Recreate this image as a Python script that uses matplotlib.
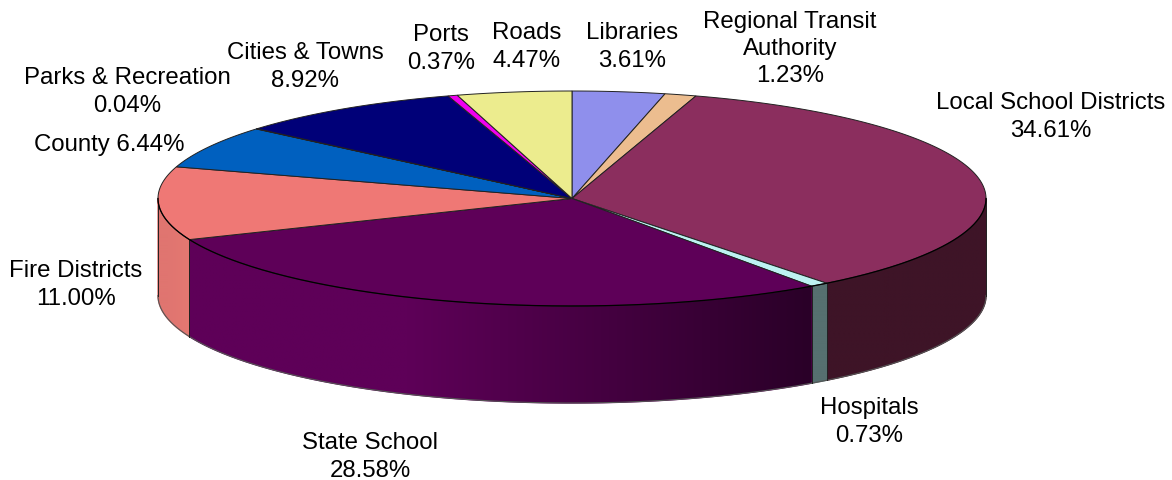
import numpy as np
import matplotlib
matplotlib.use("Agg")
import matplotlib.pyplot as plt
from matplotlib.colors import to_rgb
from matplotlib.patches import Polygon

values = [3.61, 1.23, 34.61, 0.73, 28.58, 11.00, 6.44, 0.04, 8.92, 0.37, 4.47]
top_colors = ["#8F8FEC", "#ECBD8F", "#8B2E5E", "#BDF2F2", "#5E0058", "#EF7875",
              "#0060BF", "#8000A0", "#000078", "#F000F0", "#ECEC8E"]
side_left = ["#8F8FEC", "#ECBD8F", "#3E1427", "#567070", "#5E0058", "#E07570",
             "#0060BF", "#8000A0", "#000078", "#F000F0", "#ECEC8E"]
side_right = ["#8F8FEC", "#ECBD8F", "#3E1427", "#567070", "#2A0028", "#E57872",
              "#0060BF", "#8000A0", "#000078", "#F000F0", "#ECEC8E"]
label_text = ["Libraries\n3.61%", "Regional Transit\nAuthority\n1.23%", "Local School Districts\n34.61%",
              "Hospitals\n0.73%", "State School\n28.58%", "Fire Districts\n11.00%", "County 6.44%",
              "Parks & Recreation\n0.04%", "Cities & Towns\n8.92%", "Ports\n0.37%", "Roads\n4.47%"]
label_pos = [(632, 47), (790, 49), (1051, 117), (869, 422), (370, 457), (76, 285), (109, 145),
             (127, 92), (305, 67), (441, 49), (527, 47)]

CX, CY, RX, RY, DEPTH = 572, 199.5, 414, 107.5, 97
W, H = 1172, 481

plt.rcParams["font.family"] = ["Liberation Sans", "DejaVu Sans"]
fig = plt.figure(figsize=(W / 100, H / 100), dpi=100)
ax = fig.add_axes([0, 0, 1, 1])


def rim(theta):
    return CX + RX * np.sin(theta), CY - RY * np.cos(theta)


edges = np.cumsum([0] + values) / sum(values) * 2 * np.pi
EDGE = "#222222"

# side walls: front half only, horizontal gradient clipped to the wall outline
for i, v in enumerate(values):
    a0, a1 = max(edges[i], np.pi / 2), min(edges[i + 1], 3 * np.pi / 2)
    if a1 <= a0:
        continue
    ts = np.linspace(a0, a1, 200)
    xs, ys = rim(ts)
    outline = np.r_[np.c_[xs, ys], np.c_[xs[::-1], ys[::-1] + DEPTH]]
    x_lo, x_hi = xs.min(), xs.max()
    # backing fill closes the hairline gaps between neighbouring walls
    ax.add_patch(Polygon(outline, closed=True, fc=side_left[i], ec=side_left[i], lw=1.0, zorder=1.5))
    g = np.clip((np.linspace(0, 1, 256) - 0.35) / 0.65, 0, 1)
    grad = np.outer(1 - g, to_rgb(side_left[i])) + np.outer(g, to_rgb(side_right[i]))
    im = ax.imshow(grad[None, :, :], extent=(x_lo, x_hi, ys.max() + DEPTH, ys.min()),
                   aspect="auto", zorder=2, interpolation="bilinear")
    clip = Polygon(outline, closed=True, transform=ax.transData, fc="none", ec="none")
    ax.add_patch(clip)
    im.set_clip_path(clip)
    ax.plot(xs, ys + DEPTH, color="#555555", lw=0.8, zorder=3)
    for a in (a0, a1):
        x, y = rim(a)
        ax.plot([x, x], [y, y + DEPTH], color=EDGE, lw=0.7, zorder=3)

# top face
for i, v in enumerate(values):
    ts = np.linspace(edges[i], edges[i + 1], max(3, int(v * 8)))
    xs, ys = rim(ts)
    pts = np.r_[[[CX, CY]], np.c_[xs, ys]]
    ax.add_patch(Polygon(pts, closed=True, fc=top_colors[i], ec=EDGE, lw=0.7, zorder=4))

# darker line where the top face meets the front wall
front = np.linspace(np.pi / 2, 3 * np.pi / 2, 300)
fx, fy = rim(front)
ax.plot(fx, fy, color="black", lw=0.9, zorder=4.5)

for txt, (x, y) in zip(label_text, label_pos):
    ax.text(x, y, txt, ha="center", va="center", fontsize=17.3, color="black",
            linespacing=1.31, zorder=5)

ax.set_xlim(0, W)
ax.set_ylim(H, 0)
ax.axis("off")

fig.savefig("out.png", dpi=100)
